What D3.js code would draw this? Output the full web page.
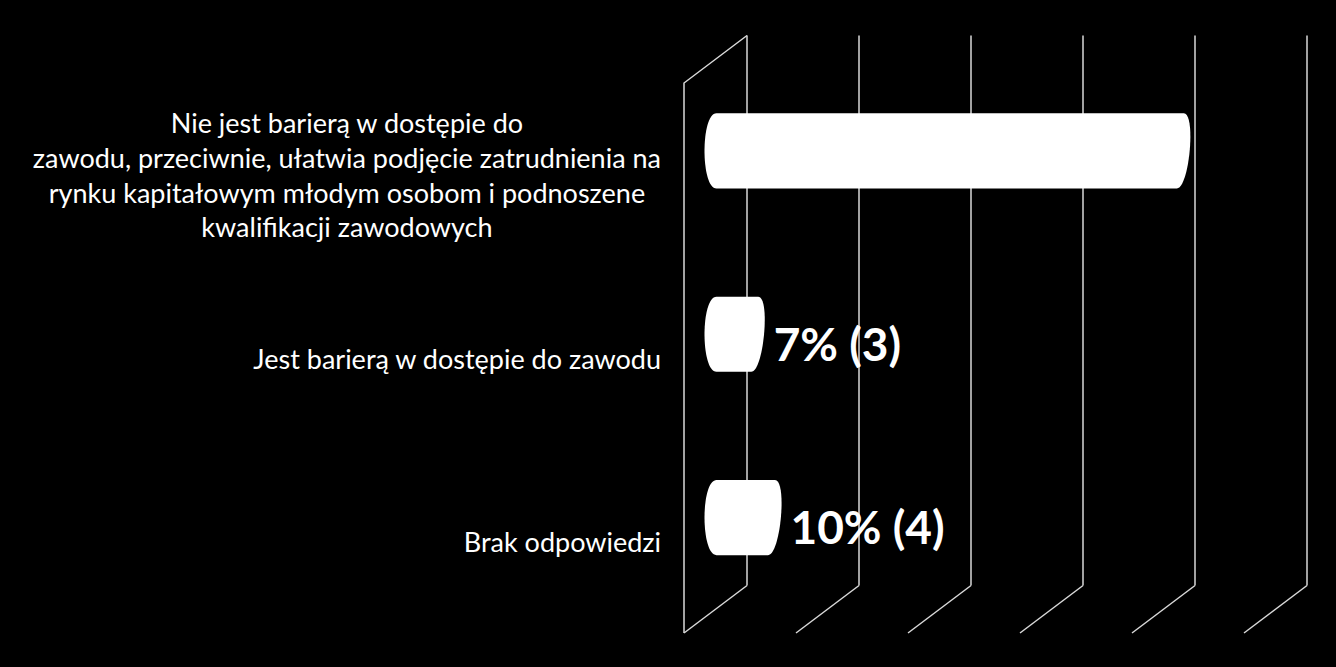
<!DOCTYPE html>
<html lang="pl">
<head>
  <meta charset="utf-8">
  <title>Bariera w dostępie do zawodu</title>
  <script src="https://d3js.org/d3.v7.min.js"></script>
  <style>
    html, body { margin: 0; padding: 0; background: #000; }
    svg { display: block; }
  </style>
</head>
<body>
  <svg width="1336" height="667"></svg>
  <script>
    // answers, wrapped the way the original slide wraps them
    const categories = [
      ["Nie jest barierą w dostępie do", "zawodu, przeciwnie, ułatwia podjęcie zatrudnienia na", "rynku kapitałowym młodym osobom i podnoszene", "kwalifikacji zawodowych"],
      ["Jest barierą w dostępie do zawodu"],
      ["Brak odpowiedzi"]
    ];
    const percents = [83, 7, 10];
    const counts = [35, 3, 4];
    // first label sits on the white bar in the original, so it is not shown
    const valueLabels = [null, "7% (3)", "10% (4)"];
    const ticks = [0, 20, 40, 60, 80, 100];

    const svg = d3.select("svg");
    const ink = "#d9d9d9";

    // front plane of the 3d box and the depth shift to the back wall
    const front = { left: 684, right: 1244, top: 83, bottom: 633 };
    const depth = { dx: 63, dy: -47.5 };

    const x = d3.scaleLinear().domain([0, 100]).range([front.left, front.right]);
    const y = d3.scaleBand().domain(d3.range(categories.length))
      .range([front.top, front.bottom]);

    // grid: back verticals plus floor diagonals
    const grid = svg.append("g").attr("stroke", ink).attr("stroke-width", 1.5).attr("fill", "none");
    grid.selectAll("line.v").data(ticks).join("line")
      .attr("x1", d => x(d) + depth.dx).attr("x2", d => x(d) + depth.dx)
      .attr("y1", front.top + depth.dy).attr("y2", front.bottom + depth.dy);
    grid.selectAll("line.f").data(ticks).join("line")
      .attr("x1", d => x(d) + depth.dx).attr("y1", front.bottom + depth.dy)
      .attr("x2", d => x(d)).attr("y2", front.bottom);
    // left wall
    grid.append("path")
      .attr("d", `M${x(0) + depth.dx},${front.top + depth.dy}L${x(0)},${front.top}L${x(0)},${front.bottom}`);

    // cylinders sit half way into the box
    const mid = { dx: depth.dx / 2, dy: depth.dy / 2 };
    const barH = y.bandwidth() * 0.41;

    function cylinder(v, i) {
      const cy = y(i) + y.bandwidth() / 2 + mid.dy;
      const t = cy - barH / 2, b = cy + barH / 2;
      const x0 = x(0) + mid.dx, x1 = x(v) + mid.dx;
      // left cap bulges left, right cap bulges right and leans a little
      return `M${x0 + 1},${t}` +
        `C${x0 - 15},${t} ${x0 - 15},${b} ${x0 + 1},${b}` +
        `L${x1 - 3.5},${b}` +
        `C${x1 + 9},${b} ${x1 + 16},${t} ${x1 + 3.5},${t}Z`;
    }

    svg.append("g").selectAll("path").data(percents).join("path")
      .attr("d", cylinder)
      .attr("fill", "#fff");

    const shown = valueLabels.map((d, i) => ({ text: d, i })).filter(d => d.text !== null);
    svg.append("g").selectAll("text").data(shown).join("text")
      .attr("x", d => x(percents[d.i]) + mid.dx + 19)
      .attr("y", d => y(d.i) + y.bandwidth() / 2 + mid.dy + 9)
      .attr("dominant-baseline", "central")
      .attr("fill", "#fff")
      .style("font-family", "Lato, 'Open Sans', sans-serif")
      .style("font-weight", "bold")
      .style("font-size", "46px")
      .text(d => d.text);

    // category labels: lines centred inside a right aligned block
    const labelRight = 661, lineGap = 34.7;
    const cats = svg.append("g")
      .attr("fill", "#fff")
      .style("font-family", "Lato, 'Open Sans', sans-serif")
      .style("font-size", "27px");

    categories.forEach((lines, i) => {
      const g = cats.append("g");
      const cy = y(i) + y.bandwidth() / 2;
      const texts = g.selectAll("text").data(lines).join("text")
        .attr("y", (d, k) => cy + (k - (lines.length - 1) / 2) * lineGap)
        .attr("dominant-baseline", "central")
        .attr("text-anchor", "middle")
        .text(d => d);
      const w = d3.max(texts.nodes(), n => n.getComputedTextLength());
      texts.attr("x", labelRight - w / 2);
    });
  </script>
</body>
</html>
